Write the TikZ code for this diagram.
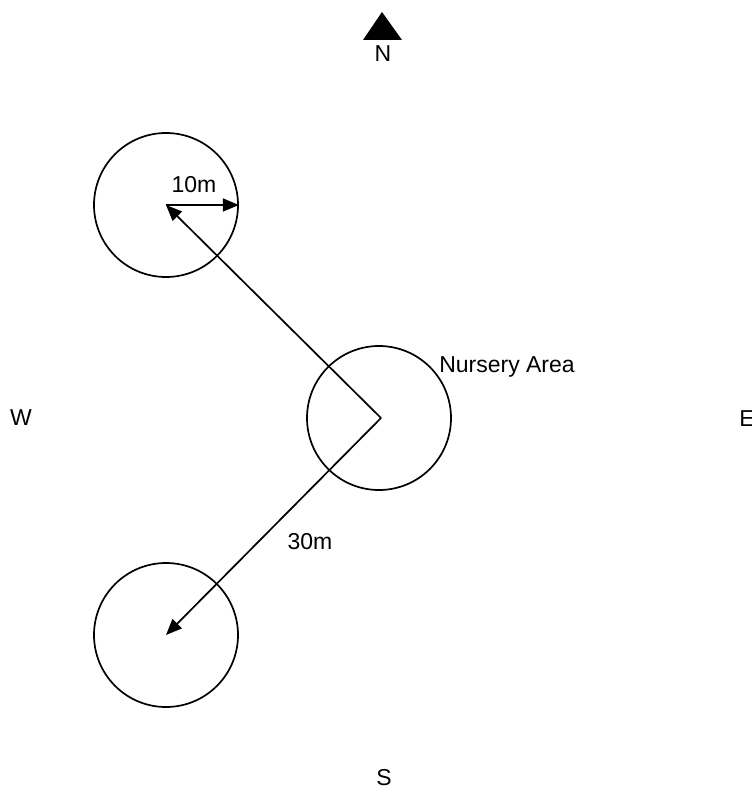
\documentclass[tikz,border=0pt]{standalone}
\usepackage{fontspec}
\setmainfont{Liberation Sans}
\usetikzlibrary{arrows.meta}
\begin{document}
\begin{tikzpicture}[x=1pt,y=-1pt,
  area/.style={draw, circle, line width=1.7pt, minimum size=144pt, inner sep=0pt},
  lbl/.style={font=\fontsize{23}{27}\selectfont, inner sep=0pt},
  arr/.style={line width=1.7pt, -{Triangle[length=16pt,width=13pt]}}]
\useasboundingbox (0,0) rectangle (751,791);
% compass
\fill (382,12) -- (402,40) -- (363,40) -- cycle;
\node[lbl] (n) at (383,54) {N};
\node[lbl] (w) at (21,418) {W};
\node[lbl] (e) at (747,419) {E};
\node[lbl] (s) at (384,778) {S};
% circles
\node[area] (top) at (166,205) {};
\node[area] (mid) at (379,418) {};
\node[area] (bot) at (166,635) {};
\coordinate (v) at (381,418);
% connectors
\draw[arr] (top.center) -- (top.east);
\draw[arr] (v) -- (top.center);
\draw[arr] (v) -- (bot.center);
% labels
\node[lbl] (l10) at (194,185) {10m};
\node[lbl] (lnur) at (507,367) {Nursery Area};
\node[lbl] (l30) at (310,542) {30m};
\end{tikzpicture}
\end{document}
